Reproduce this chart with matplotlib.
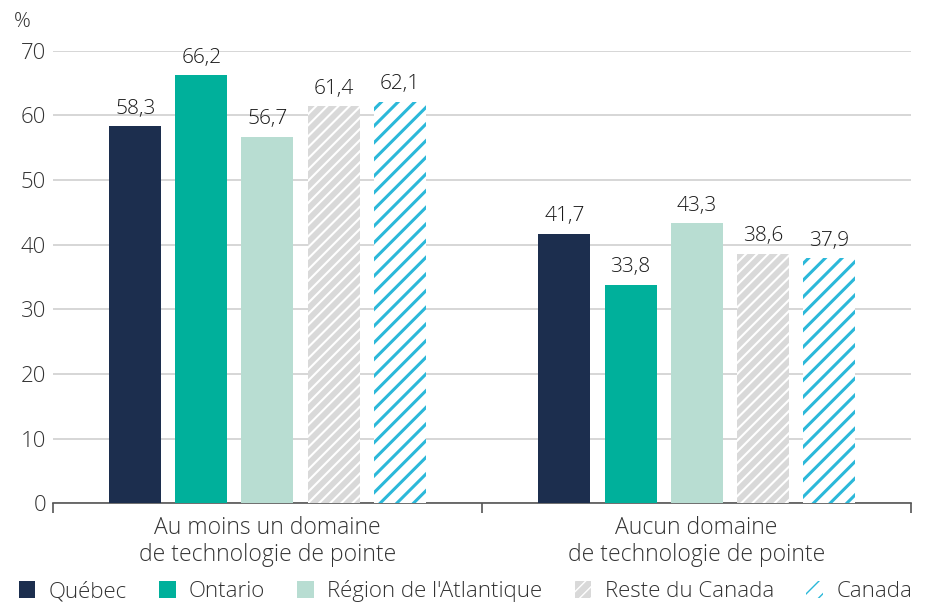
import matplotlib
matplotlib.use("Agg")
import matplotlib.pyplot as plt
from matplotlib.patches import Patch
import numpy as np

plt.rcParams['font.family'] = ['Open Sans', 'DejaVu Sans']
plt.rcParams['font.weight'] = 'light'

categories = ["Au moins un domaine\nde technologie de pointe", "Aucun domaine\nde technologie de pointe"]
series = ["Québec", "Ontario", "Région de l'Atlantique", "Reste du Canada", "Canada"]
quebec = [58.3, 41.7]
ontario = [66.2, 33.8]
atlantique = [56.7, 43.3]
reste = [61.4, 38.6]
canada = [62.1, 37.9]
values = [quebec, ontario, atlantique, reste, canada]

faces = ["#1c2e4e", "#00b09b", "#b8ddd2", "#d9d9d9", "white"]
edges = ["#1c2e4e", "#00b09b", "#b8ddd2", "white", "#2bb8d9"]
hatches = [None, None, None, "///", "//"]
hlw = [1.0, 1.0, 1.0, 1.5, 2.2]

fig = plt.figure(figsize=(9.27, 6.04), dpi=100)
ax = fig.add_axes([0.057, 0.167, 0.926, 0.749])

x = np.arange(len(categories))
step = 0.154
width = 0.121
for i, (vals, fc, ec, h, lw) in enumerate(zip(values, faces, edges, hatches, hlw)):
    pos = x + (i - 2) * step
    with plt.rc_context({'hatch.linewidth': lw}):
        bars = ax.bar(pos, vals, width, color=fc, edgecolor=ec, hatch=h, linewidth=0, zorder=3)
    for b, v in zip(bars, vals):
        ax.annotate(f"{v:.1f}".replace(".", ","), (b.get_x() + b.get_width() / 2, v),
                    xytext=(0, 9), textcoords="offset points", ha="center", va="baseline",
                    fontsize=15, color="#1a1a1a")

ax.set_xlim(-0.5, 1.5)
ax.set_ylim(0, 70)
ax.set_yticks(range(0, 71, 10))
ax.yaxis.grid(True, color="#d0d0d0", linewidth=1.2, zorder=0)
ax.set_axisbelow(True)
for s in ["top", "right", "left"]:
    ax.spines[s].set_visible(False)
ax.spines["bottom"].set_color("#555555")
ax.spines["bottom"].set_linewidth(1.2)
ax.tick_params(axis="y", length=0, labelsize=16, labelcolor="#333333", pad=5)
ax.set_xticks(x)
ax.set_xticklabels(categories, fontsize=16.5, color="#333333", linespacing=1.2)
ax.tick_params(axis="x", which="major", length=0, pad=9)
ax.set_xticks([-0.5, 0.5, 1.5], minor=True)
ax.tick_params(axis="x", which="minor", length=7, width=1.2, color="#555555", direction="out")

fig.text(0.015, 0.963, "%", fontsize=15, color="#333333", va="center")

handles = []
for s, fc, ec, h, lw in zip(series, faces, edges, hatches, hlw):
    with plt.rc_context({'hatch.linewidth': lw}):
        handles.append(Patch(facecolor=fc, edgecolor=ec, hatch=h, linewidth=0, label=s))
fig.legend(handles=handles, loc="lower center", bbox_to_anchor=(0.502, -0.03), ncol=5, frameon=False,
           fontsize=16, handlelength=0.75, handleheight=0.75, handletextpad=0.6, columnspacing=1.45,
           labelcolor="#333333")

fig.savefig("out.png", dpi=100)
